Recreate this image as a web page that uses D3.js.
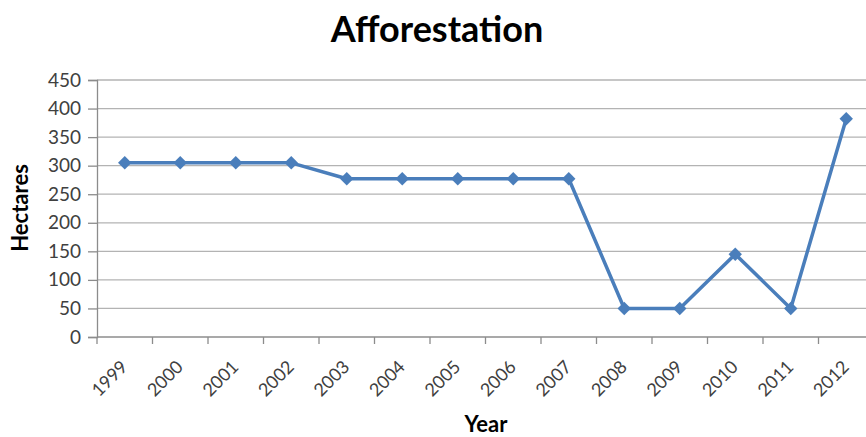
<!DOCTYPE html>
<html>
<head>
<meta charset="utf-8">
<script src="https://cdn.jsdelivr.net/npm/d3@7"></script>
<style>
  html, body { margin: 0; padding: 0; background: #fff; }
  svg { display: block; font-family: Lato, "Open Sans", sans-serif; }
</style>
</head>
<body>
<svg id="chart" width="866" height="437"></svg>
<script>
// Afforestation per year, in hectares
const years = ["1999","2000","2001","2002","2003","2004","2005","2006","2007","2008","2009","2010","2011","2012"];
const hectares = [305, 305, 305, 305, 277, 277, 277, 277, 277, 50, 50, 145, 50, 382];
const yTicks = [0, 50, 100, 150, 200, 250, 300, 350, 400, 450];

const svg = d3.select("#chart");
const margin = { left: 97, top: 80, bottom: 337 };
const plotRight = 874;

const x = d3.scaleBand().domain(years).range([margin.left, plotRight]).padding(0);
const y = d3.scaleLinear().domain([0, 450]).range([margin.bottom, margin.top]);

// horizontal gridlines
svg.append("g")
  .selectAll("line")
  .data(yTicks.filter(d => d > 0))
  .join("line")
  .attr("x1", margin.left).attr("x2", plotRight)
  .attr("y1", d => y(d)).attr("y2", d => y(d))
  .attr("stroke", "#b3b3b3").attr("stroke-width", 1.3);

// y axis
const yAxis = svg.append("g")
  .attr("transform", `translate(${margin.left},0)`)
  .call(d3.axisLeft(y).tickValues(yTicks).tickSize(9).tickPadding(7));
yAxis.select(".domain").attr("stroke", "#8c8c8c").attr("stroke-width", 1.3);
yAxis.selectAll(".tick line").attr("stroke", "#8c8c8c").attr("stroke-width", 1.3);
yAxis.selectAll(".tick text")
  .attr("fill", "#404040").attr("font-size", 19).attr("font-family", "Lato, sans-serif");

// x axis with ticks on category boundaries
const xAxisG = svg.append("g").attr("transform", `translate(0,${margin.bottom})`);
xAxisG.append("line")
  .attr("x1", margin.left).attr("x2", plotRight)
  .attr("stroke", "#8c8c8c").attr("stroke-width", 1.3);
xAxisG.selectAll("line.tk")
  .data(years)
  .join("line").attr("class", "tk")
  .attr("x1", d => x(d)).attr("x2", d => x(d))
  .attr("y1", 0).attr("y2", 7)
  .attr("stroke", "#8c8c8c").attr("stroke-width", 1.3);
xAxisG.selectAll("text")
  .data(years)
  .join("text")
  .attr("transform", d => `translate(${x(d) + x.bandwidth() / 2 + 4},${31}) rotate(-45)`)
  .attr("text-anchor", "end")
  .attr("fill", "#404040")
  .attr("font-size", 18)
  .text(d => d);

// data line and diamond markers
const cx = d => x(d) + x.bandwidth() / 2;
const line = d3.line().x((d, i) => cx(years[i])).y(d => y(d));
svg.append("path")
  .datum(hectares)
  .attr("d", line)
  .attr("fill", "none")
  .attr("stroke", "#4a7ebb")
  .attr("stroke-width", 3.5)
  .attr("stroke-linejoin", "round");

const diamond = d3.symbol().type(d3.symbolDiamond2).size(115);
svg.append("g")
  .selectAll("path")
  .data(hectares)
  .join("path")
  .attr("transform", (d, i) => `translate(${cx(years[i])},${y(d)})`)
  .attr("d", diamond)
  .attr("fill", "#4a7ebb");

// titles
svg.append("text")
  .attr("x", 437).attr("y", 42)
  .attr("text-anchor", "middle")
  .attr("font-size", 36).attr("font-weight", "bold")
  .attr("fill", "#000")
  .text("Afforestation");

svg.append("text")
  .attr("transform", `translate(28,208) rotate(-90)`)
  .attr("text-anchor", "middle")
  .attr("font-size", 22).attr("font-weight", "bold")
  .attr("fill", "#000")
  .text("Hectares");

svg.append("text")
  .attr("x", 486).attr("y", 432)
  .attr("text-anchor", "middle")
  .attr("font-size", 22).attr("font-weight", "bold")
  .attr("fill", "#000")
  .text("Year");
</script>
</body>
</html>
